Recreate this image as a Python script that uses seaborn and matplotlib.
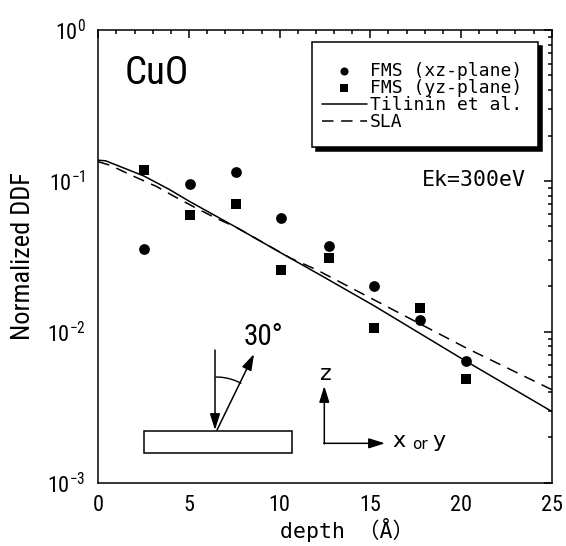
import numpy as np
import pandas as pd
import matplotlib
matplotlib.use("Agg")
import matplotlib.pyplot as plt
import seaborn as sns
from matplotlib import font_manager
from matplotlib.patches import Rectangle

# ---------------- data ----------------
depth_pts = [2.5, 5.05, 7.6, 10.1, 12.7, 15.2, 17.75, 20.3]
fms_xz = [0.0353, 0.0955, 0.114, 0.0566, 0.037, 0.0200, 0.0120, 0.00636]
fms_yz = [0.118, 0.0596, 0.070, 0.0257, 0.031, 0.01057, 0.01448, 0.00486]

tilinin_x = [0.0, 0.4, 2.5, 3.9, 5.05, 7.6, 10.1, 12.4, 15.2, 20.3, 25.0]
tilinin_y = [0.137, 0.136, 0.108, 0.088, 0.0729, 0.0493, 0.0332, 0.0232, 0.0149, 0.00636, 0.00297]

sla_x = [0.0, 0.65, 1.9, 3.2, 4.1, 5.4, 6.5, 7.6, 10.6, 12.0, 15.2, 20.3, 25.0]
sla_y = [0.134, 0.127, 0.108, 0.092, 0.080, 0.066, 0.0566, 0.0493, 0.0308, 0.0259, 0.0163, 0.0078, 0.00414]

labels = ["FMS (xz-plane)", "FMS (yz-plane)", "Tilinin et al.", "SLA"]
x_ticks = [0, 5, 10, 15, 20, 25]

# ---------------- fonts ----------------
sns.set_theme(style="white")
_names = {f.name for f in font_manager.fontManager.ttflist}
def pick(cands, default):
    for c in cands:
        if c in _names:
            return c
    return default

NARROW = pick(["Roboto Condensed", "Archivo Narrow", "Liberation Sans Narrow",
               "Barlow Semi Condensed", "Asap Condensed"], "DejaVu Sans")
MONO_NAME = pick(["DejaVu Sans Mono", "Liberation Mono"], "monospace")
MONO = [MONO_NAME, "Noto Sans CJK JP", "DejaVu Sans"]
NARROW_L = [NARROW, "DejaVu Sans"]

plt.rcParams["font.family"] = NARROW_L
plt.rcParams["mathtext.fontset"] = "custom"
plt.rcParams["mathtext.rm"] = NARROW
plt.rcParams["mathtext.it"] = NARROW
plt.rcParams["mathtext.default"] = "regular"
for k in ["text.color", "axes.labelcolor", "xtick.color", "ytick.color", "axes.edgecolor"]:
    plt.rcParams[k] = "black"

fig = plt.figure(figsize=(5.66, 5.46), dpi=100)
ax = fig.add_axes([0.1737, 0.1159, 0.8010, 0.8291])
ax.set_facecolor("white")

# ---------------- marks ----------------
sns.lineplot(x=tilinin_x, y=tilinin_y, ax=ax, color="black", lw=1.1,
             estimator=None, sort=False, label=labels[2], legend=False)
sns.lineplot(x=sla_x, y=sla_y, ax=ax, color="black", lw=1.1,
             estimator=None, sort=False, label=labels[3], legend=False,
             linestyle=(0, (7.5, 5.0)))
sns.scatterplot(x=depth_pts, y=fms_xz, ax=ax, marker="o", s=60, color="black",
                edgecolor="black", linewidth=0, label=labels[0], legend=False, zorder=3)
sns.scatterplot(x=depth_pts, y=fms_yz, ax=ax, marker="s", s=60, color="black",
                edgecolor="black", linewidth=0, label=labels[1], legend=False, zorder=3)

ax.set_yscale("log")
ax.set_xlim(0, 25)
ax.set_ylim(1e-3, 1)
ax.set_xticks(x_ticks)
ax.xaxis.set_minor_locator(matplotlib.ticker.MultipleLocator(1))
ax.yaxis.set_minor_locator(matplotlib.ticker.LogLocator(base=10, subs=np.arange(2, 10)))
ax.yaxis.set_minor_formatter(matplotlib.ticker.NullFormatter())
ax.tick_params(which="both", direction="in", top=True, right=True, width=1.1, color="black")
ax.tick_params(which="major", length=6)
ax.tick_params(which="minor", length=3)
ax.tick_params(axis="x", which="major", pad=9, labelsize=16)
ax.tick_params(axis="y", which="major", pad=9, labelsize=16)
for sp in ax.spines.values():
    sp.set_color("black")
    sp.set_linewidth(1.1)

# axis labels
ax.set_xlabel("depth （Å）", family=MONO, fontsize=15.5, va="top")
ax.xaxis.set_label_coords(0.548, -0.078)
ax.set_ylabel("Normalized DDF", fontsize=19, va="center", family=NARROW_L)
ax.yaxis.set_label_coords(-0.166, 0.50)

# texts
ax.text(0.059, 0.903, "CuO", transform=ax.transAxes, fontsize=28, va="center", ha="left",
        family=NARROW_L)
ax.text(0.714, 0.668, "Ek=300eV", transform=ax.transAxes, fontsize=15.5, va="center", ha="left",
        family=MONO)

# geometry helper: pixel positions -> axes fraction
W, H, X0, Y1 = 453.4, 452.7, 98.3, 482.7
def af(px, py):
    return ((px - X0) / W, (Y1 - py) / H)

# legend (frame drawn separately with a solid drop shadow)
handles, labs = ax.get_legend_handles_labels()
order = [labs.index(l) for l in labels]
leg = ax.legend([handles[i] for i in order], [labs[i] for i in order],
                loc="upper left", bbox_to_anchor=af(321.7, 61.5), borderaxespad=0,
                frameon=False, prop={"family": MONO, "size": 13},
                handlelength=2.5, handletextpad=0.15, labelspacing=-0.04,
                borderpad=0, markerscale=0.75)
leg.set_zorder(6)
b0 = af(311.7, 146.7); b1 = af(538, 41.7)
s0 = af(315.7, 150.7)
ax.add_patch(Rectangle(s0, b1[0] - b0[0], b1[1] - b0[1], transform=ax.transAxes,
                       fc="black", ec="black", lw=1.1, zorder=4.5))
ax.add_patch(Rectangle(b0, b1[0] - b0[0], b1[1] - b0[1], transform=ax.transAxes,
                       fc="white", ec="black", lw=1.1, zorder=5))

# geometry diagram
r0 = af(144.3, 452.7); r1 = af(291.7, 431)
ax.add_patch(Rectangle(r0, r1[0] - r0[0], r1[1] - r0[1], transform=ax.transAxes,
                       fill=False, lw=1.1, ec="black"))
arw = dict(arrowstyle="-|>,head_length=0.7,head_width=0.22", color="black", lw=1.1,
           mutation_scale=14, shrinkA=0, shrinkB=0)
ax.annotate("", xy=af(215, 430), xytext=af(215, 350), xycoords="axes fraction",
            textcoords="axes fraction", arrowprops=arw)
ax.annotate("", xy=af(254, 354), xytext=af(217, 430), xycoords="axes fraction",
            textcoords="axes fraction", arrowprops=arw)
th = np.radians(np.linspace(90, 62, 20))
arc = [af(216 + 53 * np.cos(t), 430 - 53 * np.sin(t)) for t in th]
ax.plot([p[0] for p in arc], [p[1] for p in arc], color="black", lw=1.0, transform=ax.transAxes)
ax.text(*af(244, 337), "30°", transform=ax.transAxes, fontsize=21, va="center", ha="left",
        family=NARROW_L)

# coordinate axes sketch
ax.annotate("", xy=af(324.3, 386), xytext=af(324.3, 443.8), xycoords="axes fraction",
            textcoords="axes fraction", arrowprops=arw)
ax.annotate("", xy=af(385, 443.3), xytext=af(323.8, 443.3), xycoords="axes fraction",
            textcoords="axes fraction", arrowprops=arw)
ax.text(*af(326, 374), "z", transform=ax.transAxes, fontsize=16, ha="center", va="center",
        family=["DejaVu Sans"])
ax.text(*af(392, 441), "x", transform=ax.transAxes, fontsize=16, ha="left", va="center",
        family=["DejaVu Sans"])
ax.text(*af(412, 444), "or", transform=ax.transAxes, fontsize=11, ha="left", va="center",
        family=["DejaVu Sans"])
ax.text(*af(432, 441), "y", transform=ax.transAxes, fontsize=16, ha="left", va="center",
        family=["DejaVu Sans"])

fig.savefig("out.png", dpi=100, facecolor="white")
